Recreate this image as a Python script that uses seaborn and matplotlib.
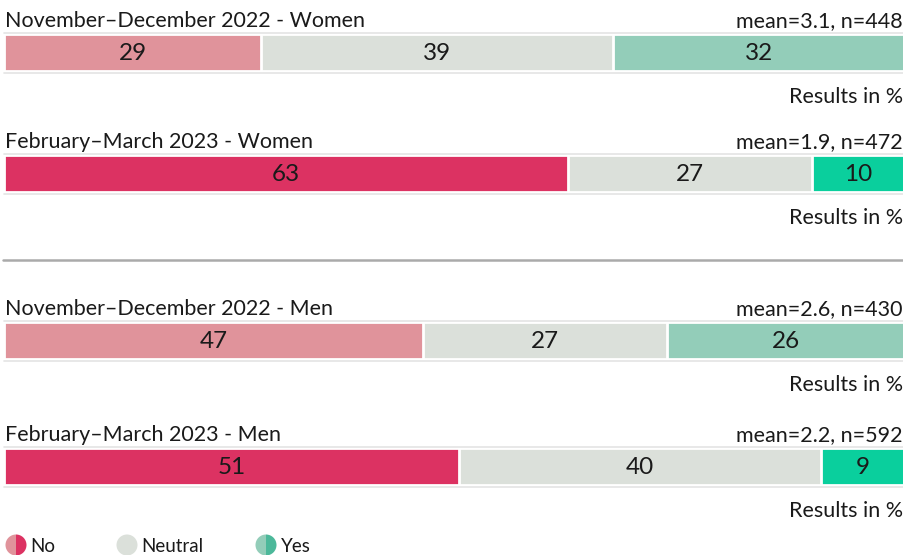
import matplotlib
matplotlib.use("Agg")
import matplotlib.pyplot as plt
import seaborn as sns
import pandas as pd
import numpy as np
from matplotlib.patches import Wedge
from matplotlib.lines import Line2D

sns.set_theme(style="white")
plt.rcParams['font.family'] = ['Lato', 'DejaVu Sans']

# ---- data ----
categories = ["No", "Neutral", "Yes"]
panel_titles = ["November–December 2022 - Women", "February–March 2023 - Women",
                "November–December 2022 - Men", "February–March 2023 - Men"]
panel_stats = ["mean=3.1, n=448", "mean=1.9, n=472", "mean=2.6, n=430", "mean=2.2, n=592"]
no_values = [28.6, 62.7, 46.6, 50.6]
neutral_values = [39.1, 27.1, 27.1, 40.2]
yes_values = [32.3, 10.2, 26.3, 9.2]
unit_label = "Results in %"

muted_colors = ["#e0939b", "#dbe0da", "#93cdb9"]
strong_colors = ["#dc3262", "#dbe0da", "#0acf9d"]
panel_palettes = [muted_colors, strong_colors, muted_colors, strong_colors]

W, H = 904, 555
fig = plt.figure(figsize=(W / 100, H / 100), dpi=100)


def fx(px):
    return px / W


def fy(py):
    return 1 - py / H


bar_tops = [34, 155, 322, 448]
bar_h = 37
x_left, x_right = 4, 904

for i in range(4):
    top = bar_tops[i]
    ax = fig.add_axes([fx(x_left), fy(top + bar_h), fx(x_right - x_left), bar_h / H])
    vals = [no_values[i], neutral_values[i], yes_values[i]]
    cum = np.cumsum(vals)
    pal = panel_palettes[i]
    df = pd.DataFrame({"cat": categories, "cum": cum, "val": vals})
    # draw cumulative bars, largest first
    for j in reversed(range(3)):
        sns.barplot(data=df.iloc[[j]].assign(row="r"), x="cum", y="row", orient="h",
                    color=pal[j], width=1.0, saturation=1, edgecolor="white",
                    linewidth=2, ax=ax)
    starts = np.concatenate([[0], cum[:-1]])
    for j in range(3):
        ax.text(starts[j] + vals[j] / 2, 0.03, f"{round(vals[j])}", ha="center", va="center",
                fontsize=17.5, color="#1a1a1a")
    ax.set_xlim(0, cum[-1])
    ax.set_ylim(0.5, -0.5)
    ax.axis("off")

    # thin rules above/below bar
    for yy in (top - 1.5, top + bar_h + 1.5):
        fig.add_artist(Line2D([fx(x_left), fx(x_right)], [fy(yy), fy(yy)],
                              color="#e4e4e4", lw=1.2))
    fig.text(fx(5), fy(top - 7), panel_titles[i], ha="left", va="baseline",
             fontsize=15.5, color="#1a1a1a")
    fig.text(fx(903), fy(top - 7), panel_stats[i], ha="right", va="baseline",
             fontsize=15.5, color="#1a1a1a")
    fig.text(fx(903), fy(top + 69), unit_label, ha="right", va="baseline",
             fontsize=15.5, color="#1a1a1a")

# separator
fig.add_artist(Line2D([fx(3), fx(904)], [fy(260), fy(260)], color="#aaaaaa", lw=1.8))

# legend
lax = fig.add_axes([0, 0, 1, 1], zorder=-1)
lax.set_xlim(0, W)
lax.set_ylim(H, 0)
lax.axis("off")
lax.set_aspect("equal")
leg_cy = 545
leg_r = 10.5
leg_items = [(16, muted_colors[0], strong_colors[0], categories[0], 30),
             (127, muted_colors[1], muted_colors[1], categories[1], 141),
             (266, muted_colors[2], "#4cb89a", categories[2], 281)]
for cx, c_left, c_right, lab, tx in leg_items:
    lax.add_patch(Wedge((cx, leg_cy), leg_r, 90, 270, color=c_left, lw=0))
    lax.add_patch(Wedge((cx, leg_cy), leg_r, -90, 90, color=c_right, lw=0))
    lax.text(tx, leg_cy + 1, lab, ha="left", va="center", fontsize=13.5, color="#1a1a1a")

fig.savefig("out.png", dpi=100)
